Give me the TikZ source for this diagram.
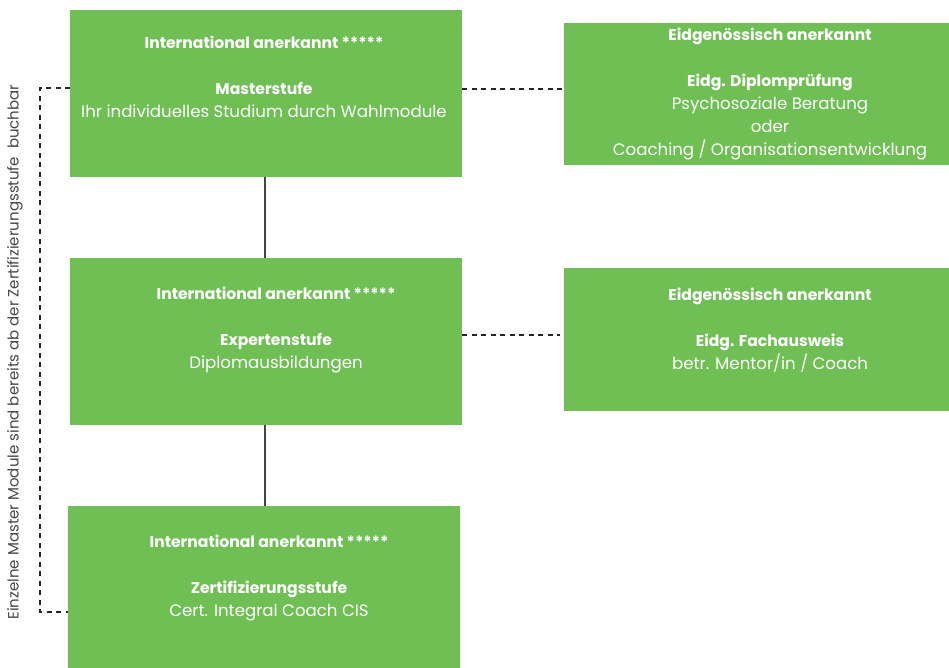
\documentclass[tikz,border=0pt]{standalone}
\usepackage{fontspec}
\setmainfont{Poppins}
\definecolor{boxgreen}{RGB}{112,191,85}
\definecolor{linegray}{RGB}{68,68,68}
\definecolor{txtgray}{RGB}{70,70,70}
\newcommand{\bl}[1]{{\fontsize{15.6}{23}\selectfont\bfseries #1}}
\begin{document}
\begin{tikzpicture}[x=1pt,y=-1pt,
  gbox/.style={fill=boxgreen,draw=none,inner sep=0pt,anchor=north west},
  btxt/.style={text=white,align=center,font=\fontsize{16.6}{23}\selectfont,inner sep=0pt},
  solidcon/.style={draw=linegray,line width=1.4pt},
  dashcon/.style={draw=black!85,line width=1.1pt,dash pattern=on 5pt off 4.5pt}]
\useasboundingbox (0,0) rectangle (949,668);
% boxes
\node[gbox,minimum width=392pt,minimum height=167pt] (master) at (70,10) {};
\node[gbox,minimum width=412pt,minimum height=142pt] (eidg1) at (564,23) {};
\node[gbox,minimum width=392pt,minimum height=167pt] (experten) at (70,258) {};
\node[gbox,minimum width=412pt,minimum height=143pt] (eidg2) at (564,268) {};
\node[gbox,minimum width=392pt,minimum height=162pt] (zert) at (68,506) {};
% texts
\node[btxt] (tmaster) at (264,76.5) {\bl{International anerkannt *****}\\\strut\\\bl{Masterstufe}\\Ihr individuelles Studium durch Wahlmodule};
\node[btxt] (teidg1) at (770,94) {\bl{Eidgenössisch anerkannt}\\\strut\\\bl{Eidg. Diplomprüfung}\\Psychosoziale Beratung\\oder\\Coaching / Organisationsentwicklung};
\node[btxt] (texperten) at (276,330) {\bl{International anerkannt *****}\\\strut\\\bl{Expertenstufe}\\Diplomausbildungen};
\node[btxt] (teidg2) at (770,330) {\bl{Eidgenössisch anerkannt}\\\strut\\\bl{Eidg. Fachausweis}\\betr. Mentor/in / Coach};
\node[btxt] (tzert) at (269,578) {\bl{International anerkannt *****}\\\strut\\\bl{Zertifizierungsstufe}\\Cert. Integral Coach CIS};
% side label
\node[rotate=90,text=txtgray,font=\fontsize{15}{16}\selectfont,inner sep=0pt] (side) at (15,352) {Einzelne Master Module sind bereits ab der Zertifizierungsstufe\ \ buchbar};
% connectors
\draw[solidcon] (master.south -| 265,0) -- (experten.north -| 265,0);
\draw[solidcon] (experten.south -| 265,0) -- (zert.north -| 265,0);
\draw[dashcon] (master.east |- 0,89) -- (eidg1.west |- 0,89);
\draw[dashcon] (experten.east |- 0,335) -- ([xshift=-4pt]eidg2.west |- 0,335);
\coordinate (bt) at (40,88);
\coordinate (bb) at (40,612);
\draw[dashcon] (master.west |- bt) -- (bt) -- (bb) -- (zert.west |- bb);
\end{tikzpicture}
\end{document}
